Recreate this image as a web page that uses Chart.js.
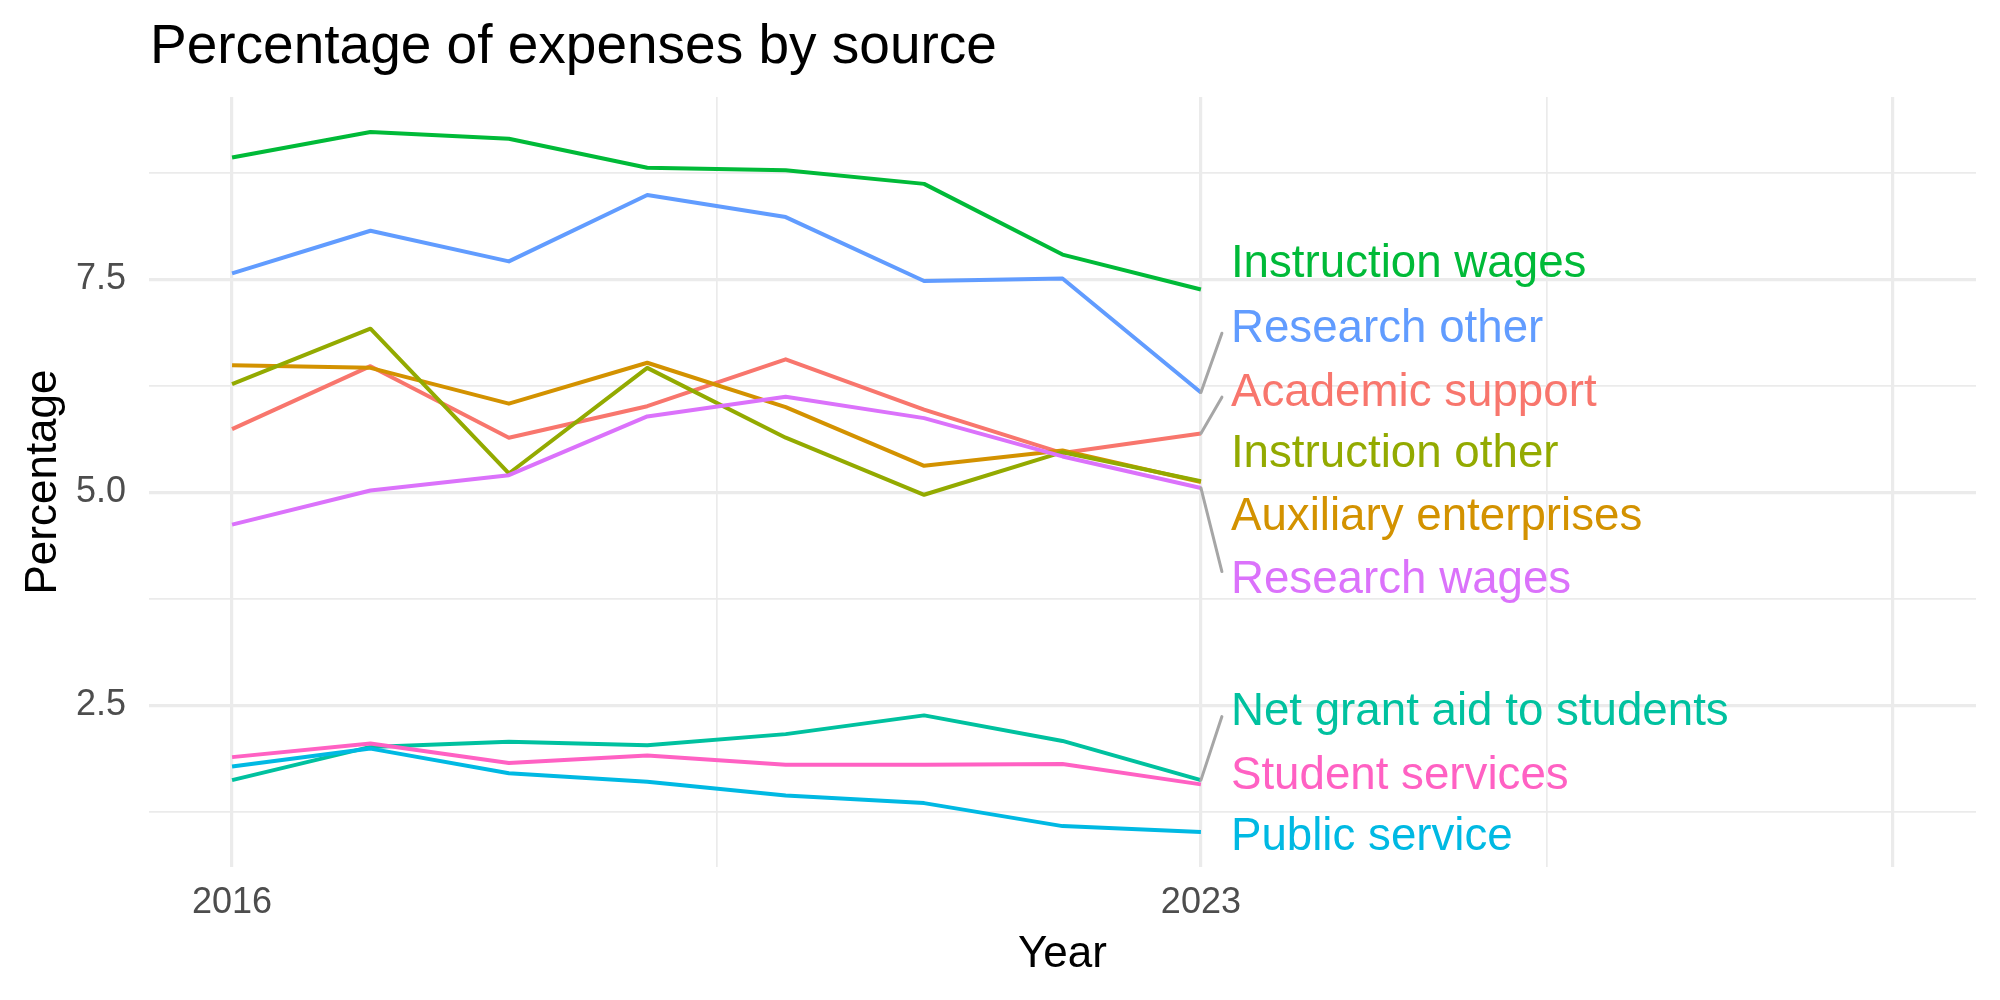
<!DOCTYPE html>
<html>
<head>
<meta charset="utf-8">
<script src="https://cdn.jsdelivr.net/npm/chart.js@4/dist/chart.umd.min.js"></script>
<style>
  html, body { margin: 0; padding: 0; background: #ffffff; }
  #wrap { width: 2000px; height: 1000px; position: relative; }
</style>
</head>
<body>
<div id="wrap"><canvas id="c" width="2000" height="1000"></canvas></div>
<script>
// ---------- data ----------
const years = [2016, 2017, 2018, 2019, 2020, 2021, 2022, 2023];
const seriesNames = [
  "Academic support", "Auxiliary enterprises", "Instruction other", "Instruction wages",
  "Net grant aid to students", "Public service", "Research other", "Research wages", "Student services"
];
const academicSupport     = [5.74, 6.48, 5.64, 6.01, 6.56, 5.97, 5.46, 5.69];
const auxiliaryEnterprises= [6.49, 6.46, 6.04, 6.52, 6.00, 5.31, 5.49, 5.12];
const instructionOther    = [6.27, 6.92, 5.22, 6.46, 5.64, 4.97, 5.47, 5.13];
const instructionWages    = [8.93, 9.23, 9.15, 8.81, 8.78, 8.62, 7.79, 7.38];
const netGrantAid         = [1.62, 2.01, 2.07, 2.03, 2.16, 2.38, 2.08, 1.62];
const publicService       = [1.78, 1.99, 1.70, 1.60, 1.44, 1.35, 1.08, 1.01];
const researchOther       = [7.57, 8.07, 7.71, 8.49, 8.23, 7.48, 7.51, 6.17];
const researchWages       = [4.62, 5.02, 5.20, 5.89, 6.12, 5.87, 5.42, 5.05];
const studentServices     = [1.89, 2.05, 1.82, 1.91, 1.80, 1.80, 1.81, 1.57];
const seriesValues = [academicSupport, auxiliaryEnterprises, instructionOther, instructionWages,
  netGrantAid, publicService, researchOther, researchWages, studentServices];
const seriesColors = ["#F8766D", "#D39200", "#93AA00", "#00BA38", "#00C19F", "#00B9E3", "#619CFF", "#DB72FB", "#FF61C3"];

// repelled label positions (data units, y) and whether a connector is drawn
const labelY      = [6.21, 4.75, 5.49, 7.72, 2.46, 0.99, 6.96, 4.01, 1.71];
const labelLinked = [true, false, false, false, true, false, true, true, false];

// axis ticks
const xTickValues = [2016, 2019.5, 2023, 2025.5, 2028];
const xTickLabels = {2016: "2016", 2023: "2023"};
const xMajor = [2016, 2023, 2028];
const yTickValues = [1.25, 2.5, 3.75, 5.0, 6.25, 7.5, 8.75];
const yTickLabels = {2.5: "2.5", 5: "5.0", 7.5: "7.5"};
const yMajor = [2.5, 5.0, 7.5];

const chartTitle = "Percentage of expenses by source";
const xTitle = "Year";
const yTitle = "Percentage";

// ---------- styles ----------
const FONT = "'Liberation Sans', Arial, Helvetica, sans-serif";
const GRID = "#EBEBEB";

const datasets = seriesNames.map((name, i) => ({
  label: name,
  data: years.map((yr, k) => ({ x: yr, y: seriesValues[i][k] })),
  borderColor: seriesColors[i],
  backgroundColor: seriesColors[i],
  borderWidth: 4,
  pointRadius: 0,
  tension: 0,
  fill: false,
  borderJoinStyle: "round",
  borderCapStyle: "butt",
  order: seriesNames.length - i
}));

const decor = {
  id: "decor",
  afterDatasetsDraw(chart) {
    const ctx = chart.ctx;
    const xs = chart.scales.x, ys = chart.scales.y;
    const lastYear = years[years.length - 1];
    const px = xs.getPixelForValue(lastYear);
    const textX = px + 30;
    const fs = 45.7;
    ctx.save();
    // connectors
    ctx.strokeStyle = "#A6A6A6";
    ctx.lineWidth = 3;
    ctx.lineCap = "round";
    seriesNames.forEach((name, i) => {
      if (!labelLinked[i]) return;
      const py = ys.getPixelForValue(seriesValues[i][years.length - 1]);
      const ly = ys.getPixelForValue(labelY[i]);
      const ey = ly + (py > ly ? 8 : -5);
      ctx.beginPath();
      ctx.moveTo(px, py);
      ctx.lineTo(textX - 9, ey);
      ctx.stroke();
    });
    // labels
    ctx.font = fs + "px " + FONT;
    ctx.textAlign = "left";
    ctx.textBaseline = "alphabetic";
    seriesNames.forEach((name, i) => {
      const ly = ys.getPixelForValue(labelY[i]);
      ctx.fillStyle = seriesColors[i];
      ctx.fillText(name, textX, ly + 0.36 * fs);
    });
    // titles
    const area = chart.chartArea;
    ctx.fillStyle = "#000000";
    ctx.font = "55px " + FONT;
    ctx.textAlign = "left";
    ctx.fillText(chartTitle, area.left + 1, 63);
    ctx.font = "44px " + FONT;
    ctx.textAlign = "center";
    ctx.fillText(xTitle, (area.left + area.right) / 2, 967);
    ctx.save();
    ctx.translate(56, (area.top + area.bottom) / 2);
    ctx.rotate(-Math.PI / 2);
    ctx.fillText(yTitle, 0, 0);
    ctx.restore();
    ctx.restore();
  }
};

new Chart(document.getElementById("c"), {
  type: "line",
  data: { datasets },
  options: {
    responsive: false,
    animation: false,
    devicePixelRatio: 1,
    layout: { padding: { top: 97, right: 24, bottom: 0, left: 0 } },
    plugins: { legend: { display: false }, title: { display: false }, tooltip: { enabled: false } },
    scales: {
      x: {
        type: "linear",
        min: 2015.4,
        max: 2028.6,
        afterBuildTicks: (s) => { s.ticks = xTickValues.map(v => ({ value: v })); },
        afterFit: (s) => { s.height = 133; },
        border: { display: false },
        grid: {
          drawTicks: false,
          color: GRID,
          lineWidth: (c) => (c.tick && xMajor.includes(c.tick.value)) ? 3.2 : 1.7
        },
        ticks: {
          autoSkip: false,
          maxRotation: 0,
          padding: 14,
          color: "#4D4D4D",
          font: { family: FONT, size: 36 },
          callback: (v) => xTickLabels[v] || ""
        }
      },
      y: {
        type: "linear",
        min: 0.60,
        max: 9.64,
        afterBuildTicks: (s) => { s.ticks = yTickValues.map(v => ({ value: v })); },
        afterFit: (s) => { s.width = 149; },
        border: { display: false },
        grid: {
          drawTicks: false,
          color: GRID,
          lineWidth: (c) => (c.tick && yMajor.includes(c.tick.value)) ? 3.2 : 1.7
        },
        ticks: {
          autoSkip: false,
          padding: 23,
          color: "#4D4D4D",
          font: { family: FONT, size: 36 },
          callback: (v) => yTickLabels[v] || ""
        }
      }
    }
  },
  plugins: [decor]
});
</script>
</body>
</html>
